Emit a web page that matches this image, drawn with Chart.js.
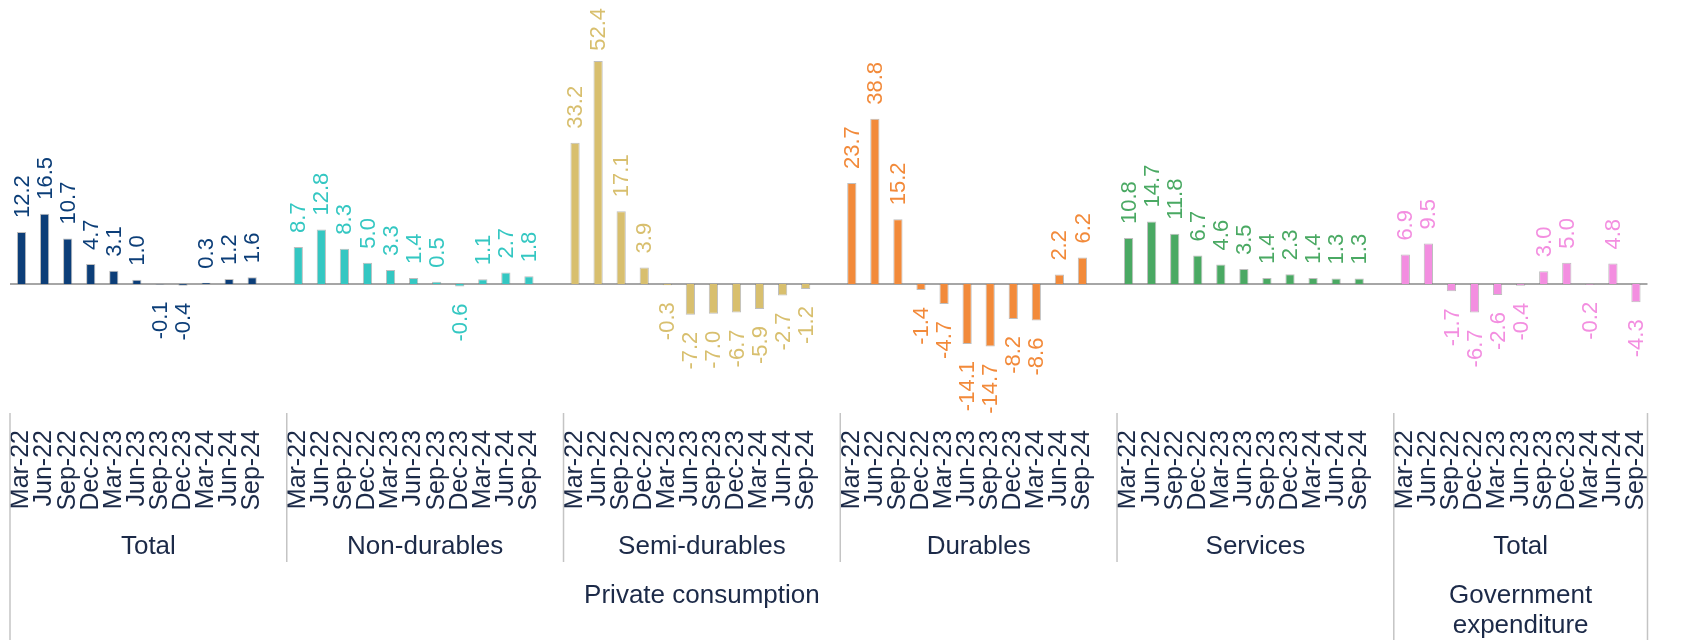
<!DOCTYPE html>
<html>
<head>
<meta charset="utf-8">
<script src="https://cdn.jsdelivr.net/npm/chart.js@4/dist/chart.umd.min.js"></script>
<style>
  html, body { margin: 0; padding: 0; background: #ffffff; }
  #wrap { width: 1683px; height: 640px; position: relative; }
</style>
</head>
<body>
<div id="wrap"><canvas id="chart" width="1683" height="640"></canvas></div>
<script>
// Quarter labels shared by every group
const quarters = ['Mar-22', 'Jun-22', 'Sep-22', 'Dec-22', 'Mar-23', 'Jun-23',
                  'Sep-23', 'Dec-23', 'Mar-24', 'Jun-24', 'Sep-24'];

// Second-level and third-level category labels
const groupNames = ['Total', 'Non-durables', 'Semi-durables', 'Durables', 'Services', 'Total'];
const sectorNames = ['Private consumption', 'Government expenditure'];

// Year-on-year change, %
const privateTotal  = [12.2, 16.5, 10.7, 4.7, 3.1, 1.0, -0.1, -0.4, 0.3, 1.2, 1.6];
const nonDurables   = [8.7, 12.8, 8.3, 5.0, 3.3, 1.4, 0.5, -0.6, 1.1, 2.7, 1.8];
const semiDurables  = [33.2, 52.4, 17.1, 3.9, -0.3, -7.2, -7.0, -6.7, -5.9, -2.7, -1.2];
const durables      = [23.7, 38.8, 15.2, -1.4, -4.7, -14.1, -14.7, -8.2, -8.6, 2.2, 6.2];
const services      = [10.8, 14.7, 11.8, 6.7, 4.6, 3.5, 1.4, 2.3, 1.4, 1.3, 1.3];
const governmentTotal = [6.9, 9.5, -1.7, -6.7, -2.6, -0.4, 3.0, 5.0, -0.2, 4.8, -4.3];

const groupSeries = [privateTotal, nonDurables, semiDurables, durables, services, governmentTotal];
const groupColors = ['#0c3e78', '#34c7c2', '#d8bf6e', '#f28a3a', '#4aa963', '#f38ee0'];

// Build the flat category axis: each group of quarters followed by a blank spacer slot
const labels = [];
const groupStart = [];
groupSeries.forEach((s, g) => {
  groupStart.push(labels.length);
  quarters.forEach(q => labels.push(q));
  if (g < groupSeries.length - 1) labels.push('');
});

const datasets = groupSeries.map((series, g) => {
  const data = labels.map(() => null);
  series.forEach((v, i) => { data[groupStart[g] + i] = v; });
  return {
    label: groupNames[g],
    data,
    backgroundColor: groupColors[g],
    borderColor: 'rgba(110,110,110,0.45)',
    borderWidth: 1,
    grouped: false,
    barPercentage: 0.4,
    categoryPercentage: 1.0
  };
});

const FONT = '"Liberation Sans", Arial, sans-serif';
const TEXT_DARK = '#1c2a48';

const decorations = {
  id: 'decorations',
  beforeDatasetsDraw(chart) {
    const { ctx, chartArea, scales } = chart;
    const y0 = scales.y.getPixelForValue(0);
    ctx.save();
    ctx.strokeStyle = '#a6a6a6';
    ctx.lineWidth = 2;
    ctx.beginPath();
    ctx.moveTo(chartArea.left, y0);
    ctx.lineTo(chartArea.right, y0);
    ctx.stroke();
    ctx.restore();
  },
  afterDatasetsDraw(chart) {
    const { ctx } = chart;
    ctx.save();
    ctx.font = '22px ' + FONT;
    ctx.textBaseline = 'middle';
    chart.data.datasets.forEach((ds, di) => {
      const meta = chart.getDatasetMeta(di);
      ds.data.forEach((v, j) => {
        if (v === null) return;
        const el = meta.data[j];
        const txt = v.toFixed(1);
        const w = ctx.measureText(txt).width;
        let anchor;
        ctx.fillStyle = ds.backgroundColor;
        ctx.save();
        if (v >= 0) {
          anchor = el.y - 14;
          if (anchor - w < 8) anchor = 8 + w;
          ctx.translate(el.x, anchor);
          ctx.rotate(-Math.PI / 2);
          ctx.textAlign = 'left';
        } else {
          anchor = el.y + 17;
          ctx.translate(el.x, anchor);
          ctx.rotate(-Math.PI / 2);
          ctx.textAlign = 'right';
        }
        ctx.fillText(txt, 0, 1);
        ctx.restore();
      });
    });
    ctx.restore();
  },
  afterDraw(chart) {
    const { ctx, chartArea, scales } = chart;
    const xs = scales.x;
    const top = chartArea.bottom;
    const bounds = [chartArea.left];
    for (let g = 1; g < groupStart.length; g++) {
      const k = groupStart[g];
      bounds.push((xs.getPixelForValue(k - 1) + xs.getPixelForValue(k)) / 2);
    }
    bounds.push(chartArea.right);

    ctx.save();
    ctx.strokeStyle = '#c4c4c4';
    ctx.lineWidth = 1.5;
    bounds.forEach((bx, i) => {
      const outer = (i === 0 || i === bounds.length - 2 || i === bounds.length - 1);
      ctx.beginPath();
      ctx.moveTo(bx, top);
      ctx.lineTo(bx, outer ? 640 : 562);
      ctx.stroke();
    });

    ctx.fillStyle = TEXT_DARK;
    ctx.font = '26px ' + FONT;
    ctx.textAlign = 'center';
    ctx.textBaseline = 'middle';
    for (let g = 0; g < groupNames.length; g++) {
      ctx.fillText(groupNames[g], (bounds[g] + bounds[g + 1]) / 2, 547);
    }
    const govLeft = bounds[bounds.length - 2];
    ctx.fillText(sectorNames[0], (bounds[0] + govLeft) / 2, 596);
    const govMid = (govLeft + chartArea.right) / 2;
    ctx.fillText('Government', govMid, 596);
    ctx.fillText('expenditure', govMid, 626);
    ctx.restore();
  }
};

new Chart(document.getElementById('chart'), {
  type: 'bar',
  data: { labels, datasets },
  options: {
    responsive: false,
    devicePixelRatio: 1,
    animation: false,
    layout: { padding: { left: 10, right: 6, top: 0, bottom: 127 } },
    plugins: { legend: { display: false }, tooltip: { enabled: false } },
    scales: {
      x: {
        type: 'category',
        grid: { display: false, drawTicks: false },
        border: { display: false },
        ticks: {
          autoSkip: false,
          minRotation: 90,
          maxRotation: 90,
          padding: 17,
          color: TEXT_DARK,
          font: { family: FONT, size: 25 }
        },
        afterFit(scale) { scale.height = 100; }
      },
      y: {
        display: false,
        min: -30.3,
        max: 66.7
      }
    }
  },
  plugins: [decorations]
});
</script>
</body>
</html>
